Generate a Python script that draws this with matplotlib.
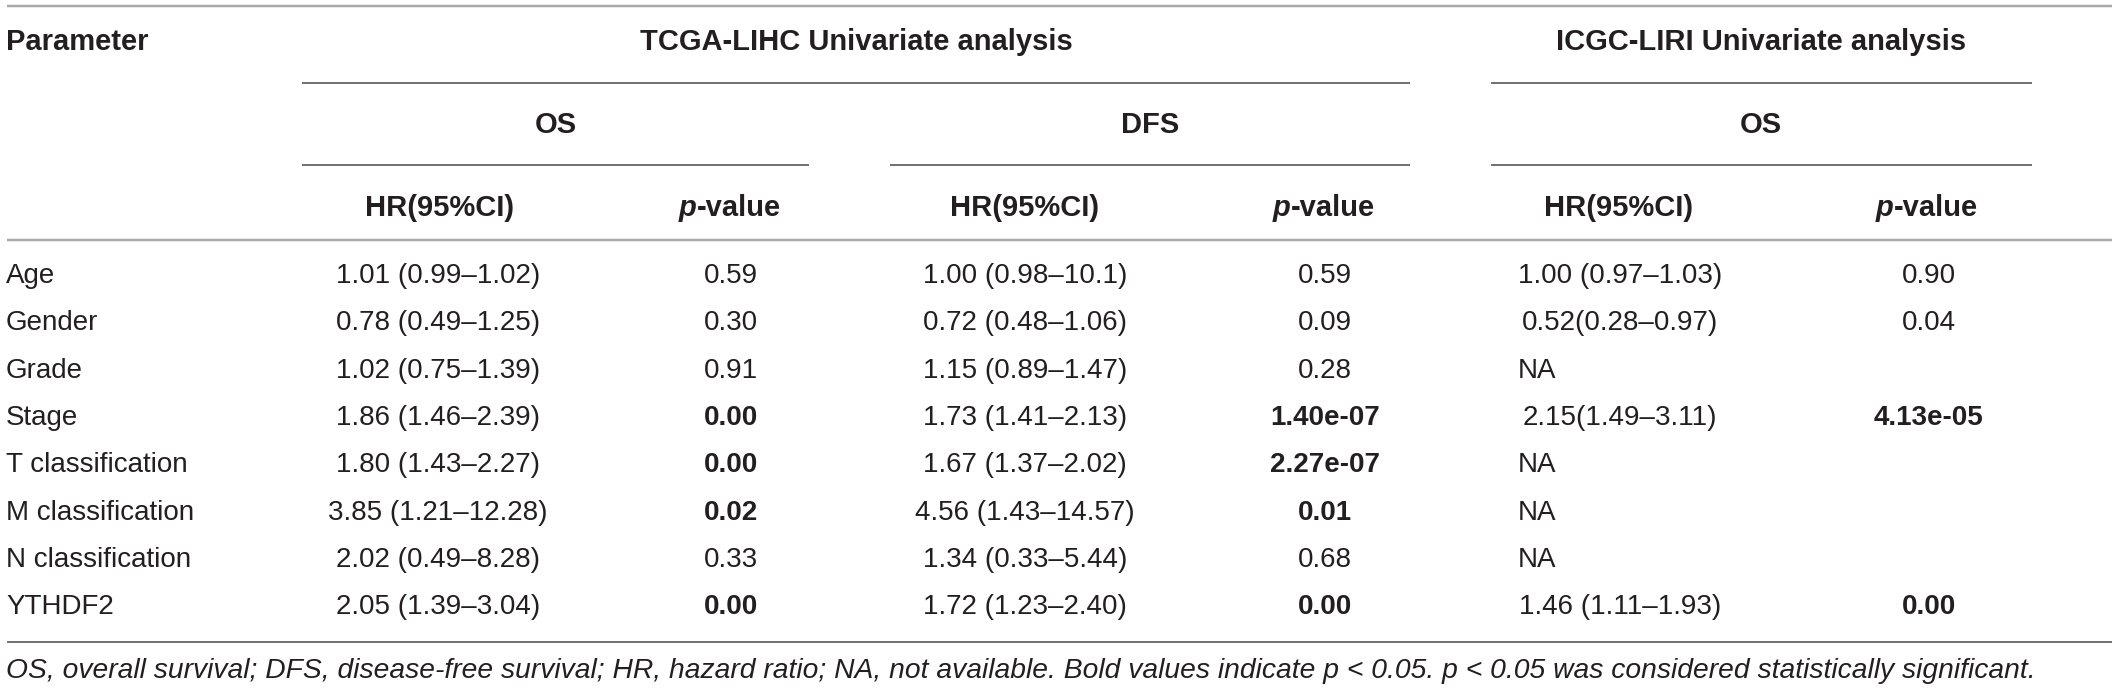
import matplotlib
matplotlib.use("Agg")
import matplotlib.pyplot as plt

plt.rcParams['font.family'] = ['Liberation Sans', 'DejaVu Sans']

# ---- data ----
parameters = ["Age", "Gender", "Grade", "Stage", "T classification",
              "M classification", "N classification", "YTHDF2"]
tcga_os_hr = ["1.01 (0.99–1.02)", "0.78 (0.49–1.25)", "1.02 (0.75–1.39)", "1.86 (1.46–2.39)",
              "1.80 (1.43–2.27)", "3.85 (1.21–12.28)", "2.02 (0.49–8.28)", "2.05 (1.39–3.04)"]
tcga_os_p = ["0.59", "0.30", "0.91", "0.00", "0.00", "0.02", "0.33", "0.00"]
tcga_os_bold = [False, False, False, True, True, True, False, True]
tcga_dfs_hr = ["1.00 (0.98–10.1)", "0.72 (0.48–1.06)", "1.15 (0.89–1.47)", "1.73 (1.41–2.13)",
               "1.67 (1.37–2.02)", "4.56 (1.43–14.57)", "1.34 (0.33–5.44)", "1.72 (1.23–2.40)"]
tcga_dfs_p = ["0.59", "0.09", "0.28", "1.40e-07", "2.27e-07", "0.01", "0.68", "0.00"]
tcga_dfs_bold = [False, False, False, True, True, True, False, True]
icgc_os_hr = ["1.00 (0.97–1.03)", "0.52(0.28–0.97)", "NA", "2.15(1.49–3.11)",
              "NA", "NA", "NA", "1.46 (1.11–1.93)"]
icgc_os_p = ["0.90", "0.04", "", "4.13e-05", "", "", "", "0.00"]
icgc_os_bold = [False, False, False, True, False, False, False, True]

group_titles = ["TCGA-LIHC Univariate analysis", "ICGC-LIRI Univariate analysis"]
sub_titles = ["OS", "DFS", "OS"]
col_titles = ["HR(95%CI)", "p-value", "HR(95%CI)", "p-value", "HR(95%CI)", "p-value"]
footnote = ("OS, overall survival; DFS, disease-free survival; HR, hazard ratio; NA, not available. "
            "Bold values indicate p < 0.05. p < 0.05 was considered statistically significant.")

# ---- layout ----
W, H = 2118, 691
fig = plt.figure(figsize=(W / 100, H / 100), dpi=100)
ax = fig.add_axes([0, 0, 1, 1])
ax.set_xlim(0, W)
ax.set_ylim(H, 0)
ax.axis('off')

TXT = '#231f20'
FS = 20
FSH = 21
LIGHT = '#a9a9a9'
DARK = '#737373'

col_x = [438, 731, 1025, 1325, 1620, 1929]
row_y0, row_dy = 276, 47.3
left_x = 6

def hline(y, x0, x1, color, lw_px):
    ax.plot([x0, x1], [y, y], color=color, lw=lw_px * 0.72, solid_capstyle='butt')

hline(5.5, 7, 2112, LIGHT, 2.5)
hline(82.5, 302, 1410, DARK, 2)
hline(82.5, 1491, 2032, DARK, 2)
hline(164.5, 302, 809, DARK, 2)
hline(164.5, 890, 1410, DARK, 2)
hline(164.5, 1491, 2032, DARK, 2)
hline(240, 7, 2112, LIGHT, 2.5)
hline(642, 7, 2112, DARK, 2)

# header
ax.text(left_x, 42, "Parameter", fontsize=FSH, fontweight='bold', color=TXT, ha='left', va='center')
ax.text(856, 42, group_titles[0], fontsize=FSH, fontweight='bold', color=TXT, ha='center', va='center')
ax.text(1761, 42, group_titles[1], fontsize=FSH, fontweight='bold', color=TXT, ha='center', va='center')
for t, x in zip(sub_titles, [556, 1150, 1761]):
    ax.text(x, 125, t, fontsize=FSH, fontweight='bold', color=TXT, ha='center', va='center')

fig.canvas.draw()
renderer = fig.canvas.get_renderer()

def text_width(s, **kw):
    t = ax.text(0, 0, s, fontsize=FSH, **kw)
    bb = t.get_window_extent(renderer=renderer)
    t.remove()
    return bb.width

for t, x in zip(col_titles, [440, 730, 1025, 1324, 1619, 1927]):
    if t.startswith("p-"):
        wp = text_width("p", fontweight='bold', fontstyle='italic')
        wr = text_width(t[1:], fontweight='bold')
        x0 = x - (wp + wr) / 2
        ax.text(x0, 208, "p", fontsize=FSH, fontweight='bold', fontstyle='italic', color=TXT,
                ha='left', va='center')
        ax.text(x0 + wp, 208, t[1:], fontsize=FSH, fontweight='bold', color=TXT,
                ha='left', va='center')
    else:
        ax.text(x, 208, t, fontsize=FSH, fontweight='bold', color=TXT, ha='center', va='center')

# body
columns = [(tcga_os_hr, None), (tcga_os_p, tcga_os_bold), (tcga_dfs_hr, None),
           (tcga_dfs_p, tcga_dfs_bold), (icgc_os_hr, None), (icgc_os_p, icgc_os_bold)]
for i, name in enumerate(parameters):
    y = row_y0 + i * row_dy
    ax.text(left_x, y, name, fontsize=FS, color=TXT, ha='left', va='center')
    for (vals, bold), x in zip(columns, col_x):
        s = vals[i]
        if not s:
            continue
        fw = 'bold' if (bold is not None and bold[i]) else 'normal'
        if s == "NA":
            ax.text(1518, y, s, fontsize=FS, color=TXT, ha='left', va='center')
        else:
            ax.text(x, y, s, fontsize=FS, fontweight=fw, color=TXT, ha='center', va='center')

ax.text(left_x, 671, footnote, fontsize=20.3, fontstyle='italic', color=TXT, ha='left', va='center')

fig.savefig("out.png", dpi=100)
